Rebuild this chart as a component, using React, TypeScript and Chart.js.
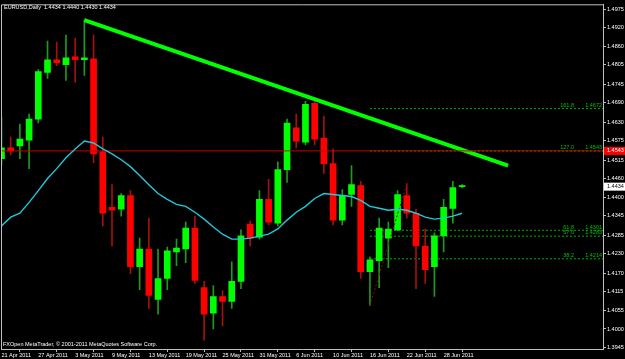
import React, { useEffect, useRef } from 'react';
import Chart from 'chart.js/auto';

// ---- data ----
const opens = [1.4519, 1.4552, 1.4558, 1.4576, 1.4640, 1.4782, 1.4821, 1.4806, 1.4830, 1.4821,
  1.4824, 1.4540, 1.4371, 1.4365, 1.4407, 1.4190, 1.4244, 1.4090, 1.4154, 1.4235,
  1.4244, 1.4308, 1.4126, 1.4048, 1.4099, 1.4084, 1.4145, 1.4320, 1.4280, 1.4395,
  1.4323, 1.4486, 1.4613, 1.4570, 1.4688, 1.4582, 1.4504, 1.4332, 1.4410, 1.4437,
  1.4175, 1.4208, 1.4277, 1.4302, 1.4407, 1.4353, 1.4253, 1.4190, 1.4284, 1.4368, 1.4434];
const highs = [1.4646, 1.4585, 1.4625, 1.4655, 1.4791, 1.4878, 1.4875, 1.4896, 1.4887, 1.4942,
  1.4896, 1.4585, 1.4440, 1.4413, 1.4422, 1.4277, 1.4338, 1.4244, 1.4250, 1.4274,
  1.4326, 1.4344, 1.4145, 1.4132, 1.4117, 1.4205, 1.4302, 1.4329, 1.4422, 1.4456,
  1.4510, 1.4640, 1.4655, 1.4694, 1.4694, 1.4649, 1.4549, 1.4425, 1.4498, 1.4450,
  1.4220, 1.4338, 1.4326, 1.4422, 1.4443, 1.4365, 1.4305, 1.4293, 1.4395, 1.4450, 1.4440];
const lows = [1.4501, 1.4531, 1.4519, 1.4489, 1.4628, 1.4764, 1.4803, 1.4758, 1.4752, 1.4773,
  1.4507, 1.4314, 1.4253, 1.4344, 1.4169, 1.4120, 1.4063, 1.4045, 1.4120, 1.4193,
  1.4202, 1.4139, 1.3966, 1.4000, 1.4009, 1.4063, 1.4123, 1.4253, 1.4274, 1.4317,
  1.4314, 1.4447, 1.4552, 1.4561, 1.4561, 1.4474, 1.4317, 1.4317, 1.4374, 1.4154,
  1.4072, 1.4126, 1.4187, 1.4300, 1.4338, 1.4123, 1.4139, 1.4099, 1.4235, 1.4323, 1.4430];
const closes = [1.4552, 1.4543, 1.4579, 1.4640, 1.4785, 1.4821, 1.4812, 1.4827, 1.4821, 1.4827,
  1.4534, 1.4353, 1.4362, 1.4407, 1.4190, 1.4244, 1.4102, 1.4154, 1.4238, 1.4247,
  1.4308, 1.4148, 1.4045, 1.4099, 1.4084, 1.4145, 1.4284, 1.4277, 1.4395, 1.4326,
  1.4486, 1.4628, 1.4573, 1.4685, 1.4579, 1.4504, 1.4332, 1.4407, 1.4440, 1.4175,
  1.4211, 1.4308, 1.4305, 1.4410, 1.4353, 1.4253, 1.4181, 1.4284, 1.4371, 1.4431, 1.4434];
const maValues = [1.4314, 1.4341, 1.4353, 1.4386, 1.4422, 1.4459, 1.4489, 1.4522, 1.4549, 1.4573,
  1.4567, 1.4549, 1.4534, 1.4516, 1.4495, 1.4468, 1.4440, 1.4413, 1.4395, 1.4380,
  1.4374, 1.4356, 1.4335, 1.4311, 1.4289, 1.4274, 1.4274, 1.4277, 1.4283, 1.4289,
  1.4305, 1.4332, 1.4356, 1.4374, 1.4398, 1.4413, 1.4410, 1.4407, 1.4404, 1.4392,
  1.4374, 1.4368, 1.4362, 1.4365, 1.4362, 1.4353, 1.4341, 1.4335, 1.4338, 1.4344, 1.4353];

const xTickIndex = [0, 4, 8, 12, 16, 20, 24, 28, 32, 36, 40, 44, 48];
const xTickLabels = ['21 Apr 2011', '27 Apr 2011', '3 May 2011', '9 May 2011', '13 May 2011', '19 May 2011',
  '25 May 2011', '31 May 2011', '6 Jun 2011', '10 Jun 2011', '16 Jun 2011', '22 Jun 2011', '28 Jun 2011'];
const yTickValues = [1.4975, 1.4920, 1.4860, 1.4805, 1.4745, 1.4690, 1.4630, 1.4575, 1.4515, 1.4460,
  1.4400, 1.4345, 1.4285, 1.4230, 1.4170, 1.4115, 1.4055, 1.4000, 1.3945];

const trendX = [9, 55];
const trendY = [1.4942, 1.4498];
const hLinePrice = 1.4543;
const fibAnchorX = [40, 44];
const fibAnchorY = [1.4072, 1.4443];
const fibStartX = 40;
const fibLevels = ['161.8', '127.0', '61.8', '57.0', '38.2'];
const fibPrices = [1.4672, 1.4543, 1.4301, 1.4283, 1.4214];
const lastPrice = 1.4434;
const headerText = 'EURUSD,Daily  1.4434 1.4440 1.4430 1.4434';
const footerText = 'FXOpen MetaTrader, \u00A9 2001-2011 MetaQuotes Software Corp.';

const X_MIN = -0.05;
const X_MAX = 65.3;
const Y_MIN = 1.3939;
const Y_MAX = 1.4990;
const FAMILY = '"Liberation Sans", Arial, sans-serif';
const FSIZE = 5.5;

const overlayPlugin = {
  id: 'mtOverlay',
  beforeDraw(chart: any) {
    const ctx = chart.ctx;
    ctx.save();
    ctx.fillStyle = '#000000';
    ctx.fillRect(0, 0, chart.width, chart.height);
    ctx.restore();
  },
  afterDraw(chart: any) {
    const { ctx, chartArea: a } = chart;
    const y = chart.scales.y;
    ctx.save();
    ctx.strokeStyle = '#c0c0c0';
    ctx.lineWidth = 1;
    ctx.beginPath();
    ctx.moveTo(a.left + 0.5, a.bottom);
    ctx.lineTo(a.left + 0.5, a.top + 0.5);
    ctx.lineTo(a.right, a.top + 0.5);
    ctx.stroke();

    ctx.font = `${FSIZE}px ${FAMILY}`;
    ctx.fillStyle = '#ffffff';
    ctx.textBaseline = 'middle';
    ctx.textAlign = 'left';
    ctx.fillText(headerText, 4, 7);
    ctx.fillText(footerText, 3, 344);

    ctx.fillStyle = '#00c000';
    ctx.textBaseline = 'bottom';
    ctx.textAlign = 'right';
    fibLevels.forEach((lv, i) => {
      const py = y.getPixelForValue(fibPrices[i]);
      ctx.fillText(lv, 574, py - 0.5);
      ctx.fillText(fibPrices[i].toFixed(4), 602, py - 0.5);
    });

    const box = (price: number, bg: string, fg: string) => {
      const py = y.getPixelForValue(price);
      ctx.fillStyle = bg;
      ctx.fillRect(a.right + 1, py - 4, chart.width - a.right - 1, 8);
      ctx.fillStyle = fg;
      ctx.textAlign = 'left';
      ctx.textBaseline = 'middle';
      ctx.fillText(price.toFixed(4), a.right + 4, py);
    };
    box(hLinePrice, '#ff0000', '#ffffff');
    box(lastPrice, '#ffffff', '#000000');
    ctx.restore();
  },
};

export default function App() {
  const ref = useRef<HTMLCanvasElement>(null);
  useEffect(() => {
    if (!ref.current) return;
    const idx = opens.map((_, i) => i);
    const up = idx.map((i) => closes[i] >= opens[i]);
    const chart = new Chart(ref.current, {
      type: 'bar',
      data: {
        datasets: [
          {
            type: 'line',
            data: idx.map((i) => ({ x: i, y: maValues[i] })),
            borderColor: '#20c8d8',
            borderWidth: 1.4,
            pointRadius: 0,
            order: 0,
          } as any,
          {
            type: 'line',
            data: [{ x: X_MIN, y: hLinePrice }, { x: X_MAX, y: hLinePrice }],
            borderColor: '#c80000',
            borderWidth: 1,
            pointRadius: 0,
            order: 0,
          } as any,
          {
            type: 'line',
            data: [{ x: trendX[0], y: trendY[0] }, { x: trendX[1], y: trendY[1] }],
            borderColor: '#00ff00',
            borderWidth: 4,
            pointRadius: 0,
            order: 0,
          } as any,
          {
            type: 'line',
            data: [{ x: fibAnchorX[0], y: fibAnchorY[0] }, { x: fibAnchorX[1], y: fibAnchorY[1] }],
            borderColor: '#a00000',
            borderWidth: 1,
            borderDash: [2, 2],
            pointRadius: 0,
            order: 0,
          } as any,
          ...fibPrices.map((p) => ({
            type: 'line',
            data: [{ x: fibStartX, y: p }, { x: X_MAX, y: p }],
            borderColor: '#00b000',
            borderWidth: 1,
            borderDash: [2, 2],
            pointRadius: 0,
            order: 3,
          } as any)),
          {
            type: 'bar',
            data: idx.map((i) => ({ x: i, y: [opens[i], closes[i]] })),
            backgroundColor: up.map((u) => (u ? '#00ff00' : '#ff0000')),
            barThickness: 6,
            grouped: false,
            minBarLength: 1,
            order: 1,
          } as any,
          {
            type: 'bar',
            data: idx.map((i) => ({ x: i, y: [lows[i], highs[i]] })),
            backgroundColor: up.map((u) => (u ? '#1f9a1f' : '#a31010')),
            barThickness: 1,
            grouped: false,
            order: 2,
          } as any,
        ],
      },
      options: {
        animation: false,
        responsive: false,
        devicePixelRatio: 1,
        layout: { padding: { left: 1, top: 1, right: 0, bottom: 0 } },
        plugins: { legend: { display: false }, tooltip: { enabled: false } },
        scales: {
          x: {
            type: 'linear',
            min: X_MIN,
            max: X_MAX,
            offset: false,
            afterBuildTicks: (s: any) => {
              s.ticks = xTickIndex.map((v) => ({ value: v }));
            },
            afterFit: (s: any) => {
              s.height = 10;
            },
            ticks: {
              callback: (_v: any, i: number) => xTickLabels[i],
              align: 'start',
              autoSkip: false,
              maxRotation: 0,
              padding: 0,
              color: '#ffffff',
              font: { family: FAMILY, size: FSIZE },
            },
            grid: { drawOnChartArea: false, drawTicks: true, tickLength: 3, color: '#c0c0c0' },
            border: { color: '#c0c0c0' },
          },
          y: {
            type: 'linear',
            position: 'right',
            min: Y_MIN,
            max: Y_MAX,
            afterBuildTicks: (s: any) => {
              s.ticks = yTickValues.map((v) => ({ value: v }));
            },
            afterFit: (s: any) => {
              s.width = 22;
            },
            ticks: {
              callback: (v: any) => Number(v).toFixed(4),
              autoSkip: false,
              padding: 1,
              color: '#ffffff',
              font: { family: FAMILY, size: FSIZE },
            },
            grid: { drawOnChartArea: false, drawTicks: true, tickLength: 3, color: '#c0c0c0' },
            border: { color: '#c0c0c0' },
          },
        },
      } as any,
      plugins: [overlayPlugin],
    });
    return () => chart.destroy();
  }, []);
  return (
    <div style={{ position: 'absolute', left: 0, top: 0, width: 625, height: 359, background: '#000' }}>
      <canvas ref={ref} width={625} height={359} style={{ display: 'block' }} />
    </div>
  );
}
